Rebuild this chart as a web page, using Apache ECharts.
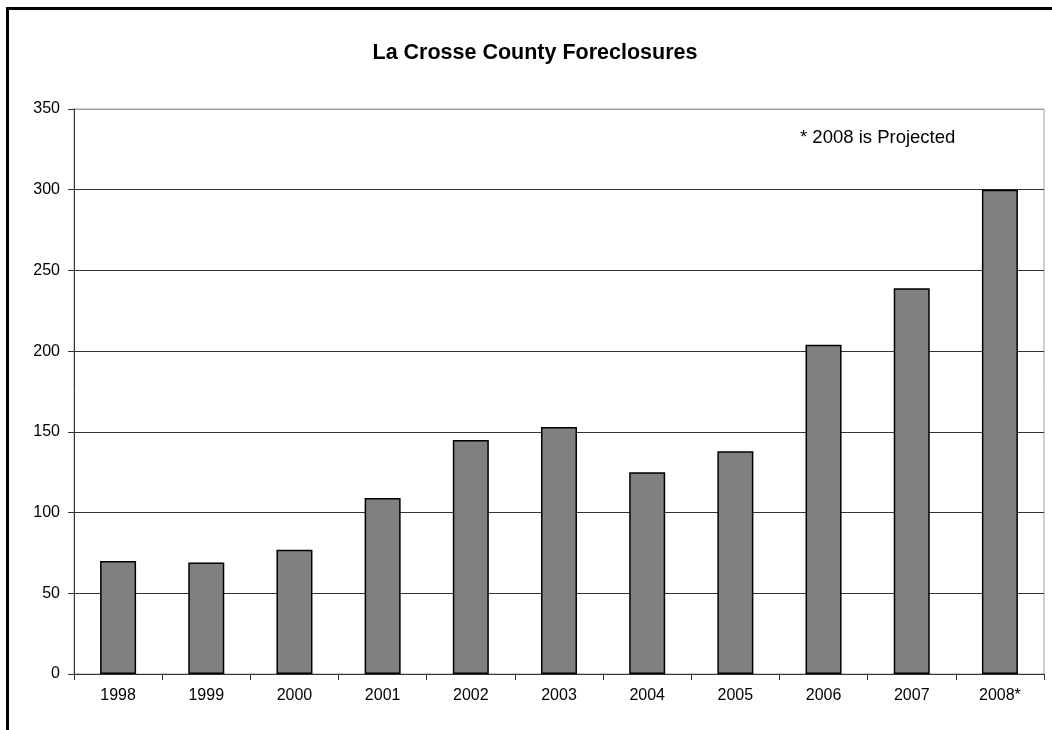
<!DOCTYPE html>
<html>
<head>
<meta charset="utf-8">
<script src="https://cdn.jsdelivr.net/npm/echarts@6/dist/echarts.min.js"></script>
<style>
html,body{margin:0;padding:0;background:#fff;}
#chart{width:1052px;height:730px;}
</style>
</head>
<body>
<div id="chart"></div>
<script>
const categories = ['1998','1999','2000','2001','2002','2003','2004','2005','2006','2007','2008*'];
const foreclosures = [70, 69, 77, 109, 145, 153, 125, 138, 204, 239, 300];
const yTicks = { min: 0, max: 350, interval: 50 };
const titleText = 'La Crosse County Foreclosures';
const noteText = '* 2008 is Projected';

const FONT = '"Liberation Sans", Arial, sans-serif';
const chart = echarts.init(document.getElementById('chart'), null, { renderer: 'canvas' });
chart.setOption({
  backgroundColor: '#ffffff',
  animation: false,
  graphic: [
    { type: 'line', shape: { x1: 6, y1: 8.5, x2: 1052, y2: 8.5 }, style: { stroke: '#000', lineWidth: 3 } },
    { type: 'line', shape: { x1: 7.5, y1: 7, x2: 7.5, y2: 730 }, style: { stroke: '#000', lineWidth: 3 } },
    { type: 'text', x: 535, y: 53, style: { text: titleText, font: 'bold 21.5px ' + FONT, fill: '#000', align: 'center', verticalAlign: 'middle' } },
    { type: 'text', left: 800, top: 128, style: { text: noteText, font: '18.5px ' + FONT, fill: '#000' } }
  ],
  grid: {
    left: 74, right: 8, top: 109, bottom: 56,
    show: true, borderColor: '#a0a0a0', borderWidth: 1, backgroundColor: '#fff'
  },
  xAxis: {
    type: 'category',
    data: categories,
    axisLine: { lineStyle: { color: '#333', width: 1 } },
    axisTick: { show: true, length: 6, alignWithLabel: false, lineStyle: { color: '#333' } },
    axisLabel: { margin: 14, fontFamily: FONT, fontSize: 16, color: '#000' },
    splitLine: { show: false }
  },
  yAxis: {
    type: 'value',
    min: yTicks.min, max: yTicks.max, interval: yTicks.interval,
    axisLine: { show: true, lineStyle: { color: '#333', width: 1 } },
    axisTick: { show: true, length: 6, lineStyle: { color: '#333' } },
    axisLabel: { margin: 14, fontFamily: FONT, fontSize: 16, color: '#000' },
    splitLine: { show: true, lineStyle: { color: ['#333','#333','#333','#333','#333','#333','#333','#a0a0a0'], width: 1 } }
  },
  series: [{
    type: 'bar',
    data: foreclosures,
    barWidth: 36,
    itemStyle: { color: '#808080', borderColor: '#000', borderWidth: 1.5 }
  }]
});
</script>
</body>
</html>
